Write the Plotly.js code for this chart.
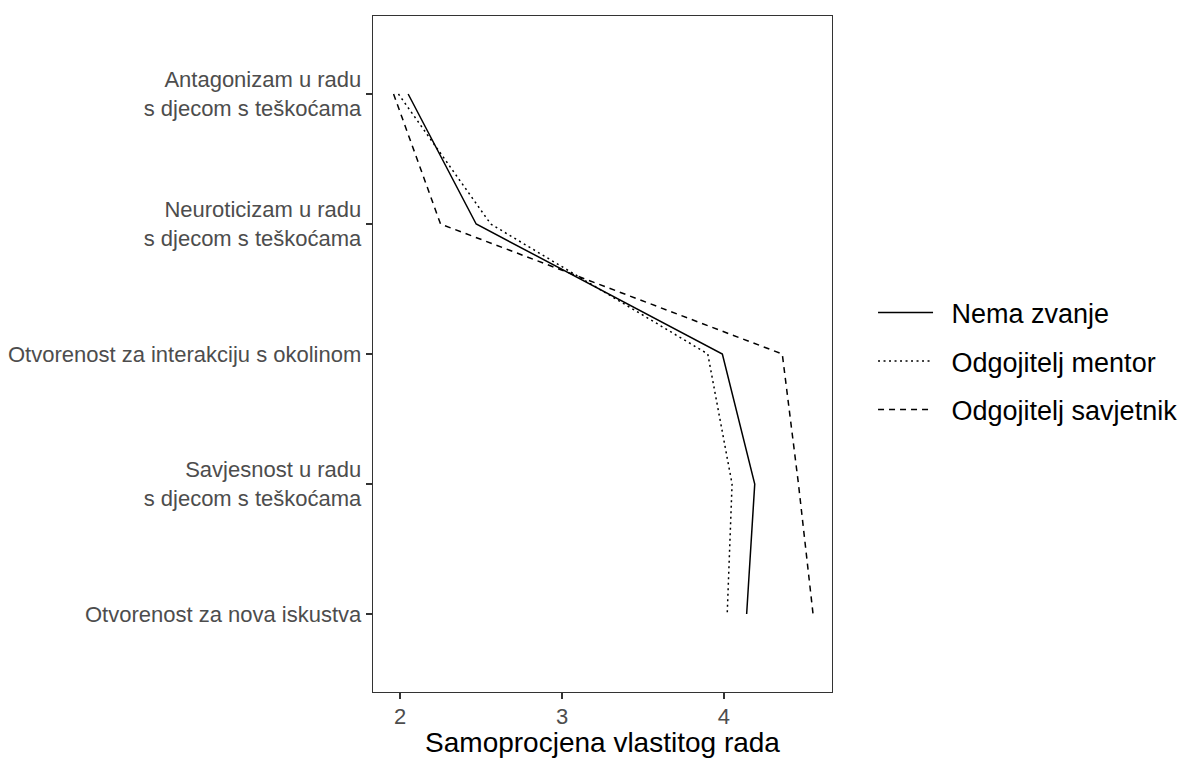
<!DOCTYPE html>
<html>
<head>
<meta charset="utf-8">
<script src="https://cdn.plot.ly/plotly-3.0.1.min.js"></script>
<style>html,body{margin:0;padding:0;background:#fff;}#chart{width:1187px;height:758px;}</style>
</head>
<body>
<div id="chart"></div>
<script>
// Categories (top to bottom)
const categories = [
  "Antagonizam u radu s djecom s teškoćama",
  "Neuroticizam u radu s djecom s teškoćama",
  "Otvorenost za interakciju s okolinom",
  "Savjesnost u radu s djecom s teškoćama",
  "Otvorenost za nova iskustva"
];
const tickLabels = [
  "Antagonizam u radu<br>s djecom s teškoćama",
  "Neuroticizam u radu<br>s djecom s teškoćama",
  "Otvorenost za interakciju s okolinom",
  "Savjesnost u radu<br>s djecom s teškoćama",
  "Otvorenost za nova iskustva"
];
const seriesNames = ["Nema zvanje", "Odgojitelj mentor", "Odgojitelj savjetnik"];
const nemaZvanje = [2.05, 2.47, 3.99, 4.19, 4.14];
const odgojiteljMentor = [1.99, 2.56, 3.90, 4.05, 4.02];
const odgojiteljSavjetnik = [1.96, 2.25, 4.36, 4.46, 4.55];
const xTickVals = [2, 3, 4];

const FONT = "Liberation Sans, Arial, sans-serif";
const seriesValues = [nemaZvanje, odgojiteljMentor, odgojiteljSavjetnik];
const dashes = ["solid", "2px,3.5px", "6px,5px"];

const traces = seriesValues.map((vals, i) => ({
  type: "scatter",
  mode: "lines",
  x: vals,
  y: categories,
  name: "\u2002" + seriesNames[i],
  legendgroup: "g" + i,
  line: {color: "#000000", width: 1.5, dash: dashes[i]},
  hoverinfo: "skip"
}));

const layout = {
  width: 1187,
  height: 758,
  margin: {l: 373, r: 355, t: 16, b: 66, pad: 0},
  paper_bgcolor: "#ffffff",
  plot_bgcolor: "#ffffff",
  font: {family: FONT, color: "#000000"},
  showlegend: true,
  legend: {
    xref: "container", yref: "container",
    x: 0.7355, y: 0.6194, xanchor: "left", yanchor: "top",
    itemwidth: 55,
    tracegroupgap: 10.4,
    font: {family: FONT, size: 27, color: "#000000"},
    bgcolor: "rgba(0,0,0,0)",
    borderwidth: 0
  },
  xaxis: {
    range: [1.833, 4.667],
    tickmode: "array",
    tickvals: xTickVals,
    ticktext: xTickVals.map(String),
    ticks: "outside",
    ticklen: 6,
    tickwidth: 1.3,
    tickcolor: "#333333",
    ticklabelstandoff: -2,
    tickfont: {family: FONT, size: 22, color: "#4d4d4d"},
    showgrid: false,
    zeroline: false,
    showline: true,
    mirror: true,
    linecolor: "#333333",
    linewidth: 1.3,
    title: {text: "Samoprocjena vlastitog rada", font: {family: FONT, size: 28, color: "#000000"}, standoff: 6}
  },
  yaxis: {
    type: "category",
    categoryorder: "array",
    categoryarray: categories,
    range: [4.6, -0.6],
    tickmode: "array",
    tickvals: categories,
    ticktext: tickLabels,
    ticks: "outside",
    ticklen: 6,
    tickwidth: 1.3,
    tickcolor: "#333333",
    tickfont: {family: FONT, size: 22, color: "#4d4d4d"},
    showgrid: false,
    zeroline: false,
    showline: true,
    mirror: true,
    linecolor: "#333333",
    linewidth: 1.3
  }
};

Plotly.newPlot("chart", traces, layout, {staticPlot: true, displayModeBar: false});
</script>
</body>
</html>
